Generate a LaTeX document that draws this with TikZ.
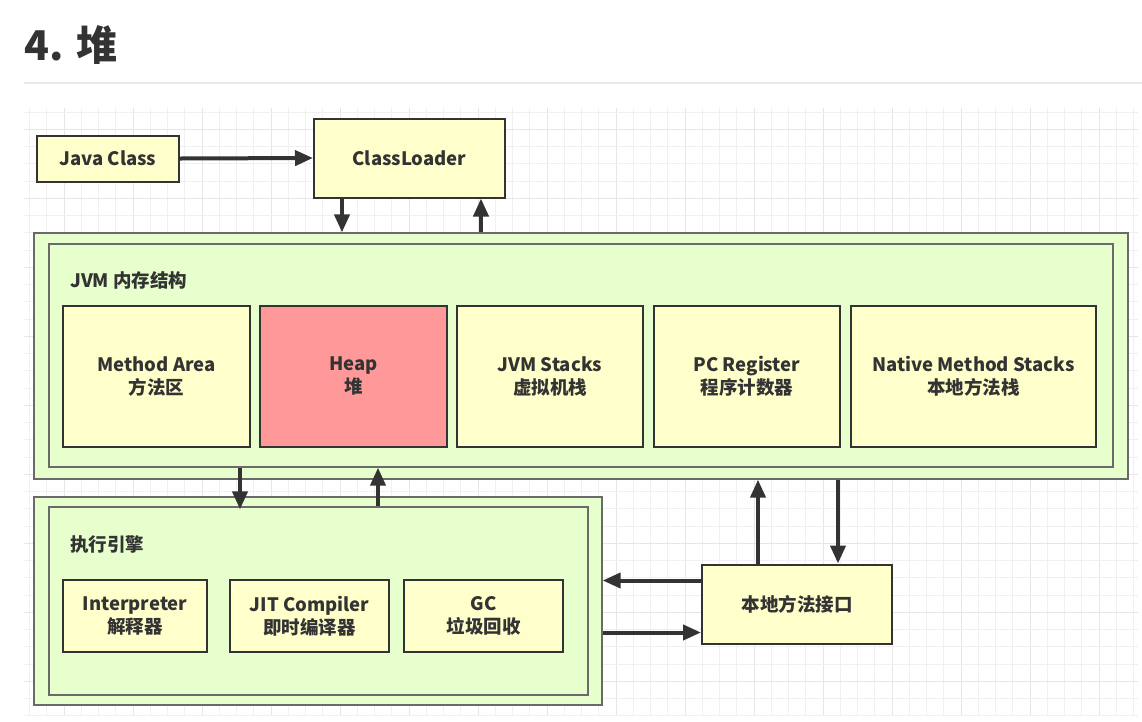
\documentclass[tikz,border=0pt]{standalone}
\usepackage{fontspec}
\setmainfont{Noto Sans CJK SC}
\usetikzlibrary{arrows.meta}
\definecolor{ink}{HTML}{333333}
\definecolor{yel}{HTML}{FFFFCC}
\definecolor{grn}{HTML}{E6FFCC}
\definecolor{heapc}{HTML}{FF9999}
\definecolor{gridc}{HTML}{F0F0F0}
\definecolor{gridm}{HTML}{E6E6E6}
\definecolor{rulec}{HTML}{E8E8E8}
\definecolor{gedge}{HTML}{6A6A6A}
\begin{document}
\begin{tikzpicture}[x=1pt,y=-1pt,
  txt/.style={font=\fontsize{18.5}{23}\selectfont\bfseries, text=ink, align=center},
  ybox/.style={txt, draw=ink, line width=2pt, fill=yel, inner sep=0pt},
  gbox/.style={draw=gedge, line width=1.3pt, fill=grn, inner sep=0pt},
  arr/.style={draw=ink, line width=4pt, -{Triangle[length=18pt,width=15pt]}},
]
\useasboundingbox (0,0) rectangle (1142,721);
\fill[white] (0,0) rectangle (1142,721);
% heading
\node[font=\fontsize{41}{44}\selectfont\bfseries, text=ink, anchor=west, inner sep=0pt] (title) at (24,45) {4. 堆};
\draw[rulec, line width=1.5pt] (24,83) -- (1142,83);
% grid
\foreach \k in {-54,...,10} {
  \pgfmathsetmacro\gx{961+17.25*\k}
  \ifdim\gx pt>24pt \ifdim\gx pt<1139pt
    \pgfmathtruncatemacro\mj{mod(\k+100,4)}
    \ifnum\mj=0 \draw[gridm, line width=1pt] (\gx,108) -- (\gx,715);
    \else \draw[gridc, line width=1pt] (\gx,108) -- (\gx,715); \fi
  \fi\fi
}
\foreach \k in {-1,...,34} {
  \pgfmathsetmacro\gy{129.3+17.25*\k}
  \ifdim\gy pt>107pt \ifdim\gy pt<716pt
    \pgfmathtruncatemacro\mj{mod(\k+100,4)}
    \ifnum\mj=0 \draw[gridm, line width=1pt] (24,\gy) -- (1138,\gy);
    \else \draw[gridc, line width=1pt] (24,\gy) -- (1138,\gy); \fi
  \fi\fi
}
% top boxes
\node[ybox, minimum width=142pt, minimum height=46pt] (jc) at (108,158.5) {Java Class};
\node[ybox, minimum width=191pt, minimum height=79pt] (cl) at (409.5,158) {ClassLoader};
% JVM memory structure
\node[gbox, minimum width=1094pt, minimum height=246pt] (jvmo) at (581,356) {};
\node[gbox, minimum width=1064pt, minimum height=223pt] (jvmi) at (581,355.5) {};
\node[txt, anchor=west, inner sep=0pt] (jvml) at (70,280) {JVM 内存结构};
\node[ybox, minimum width=187pt, minimum height=141pt, text depth=0pt] (ma) at (156.5,376) {Method Area\\方法区};
\node[ybox, fill=heapc, minimum width=187pt, minimum height=141pt] (heap) at (353.5,376) {Heap\\堆};
\node[ybox, minimum width=186pt, minimum height=141pt] (js) at (550,376) {JVM Stacks\\虚拟机栈};
\node[ybox, minimum width=186pt, minimum height=141pt] (pc) at (747,376) {PC Register\\程序计数器};
\node[ybox, minimum width=245pt, minimum height=141pt] (nms) at (973.5,376) {Native Method Stacks\\本地方法栈};
% execution engine
\node[gbox, minimum width=568pt, minimum height=208pt] (exo) at (318,601) {};
\node[gbox, minimum width=539pt, minimum height=188pt] (exi) at (318.5,601) {};
\node[txt, anchor=west, inner sep=0pt] (exl) at (70,545) {执行引擎};
\node[ybox, minimum width=144pt, minimum height=72pt] (intp) at (135,616) {Interpreter\\解释器};
\node[ybox, minimum width=159pt, minimum height=72pt] (jit) at (309.5,616) {JIT Compiler\\即时编译器};
\node[ybox, minimum width=159pt, minimum height=72pt] (gc) at (483.5,616) {GC\\垃圾回收};
% native interface
\node[ybox, minimum width=190pt, minimum height=79pt] (ni) at (797,604) {本地方法接口};
% arrows
\draw[arr] (jc.east) -- (cl.west);
\draw[arr] ([xshift=-67.5pt]cl.south) -- ([xshift=-67.5pt]cl.south |- jvmo.north);
\draw[arr] ([xshift=71.5pt]cl.south |- jvmo.north) -- ([xshift=71.5pt]cl.south);
\draw[arr] ([xshift=-78.5pt]jvmi.south -| exi.north) -- ([xshift=-78.5pt,yshift=-3pt]exi.north);
\draw[arr] ([xshift=59.5pt]exi.north) -- ([xshift=59.5pt]exi.north |- jvmi.south);
\draw[arr] ([xshift=-39pt]ni.north) -- ([xshift=-39pt]ni.north |- jvmo.south);
\draw[arr] ([xshift=41pt]ni.north |- jvmo.south) -- ([xshift=41pt]ni.north);
\draw[arr] ([yshift=23.5pt]ni.west) -- ([yshift=23.5pt]ni.west -| exo.east);
\draw[arr] ([yshift=-28.5pt]ni.west -| exo.east) -- ([yshift=-28.5pt]ni.west);
\end{tikzpicture}
\end{document}
